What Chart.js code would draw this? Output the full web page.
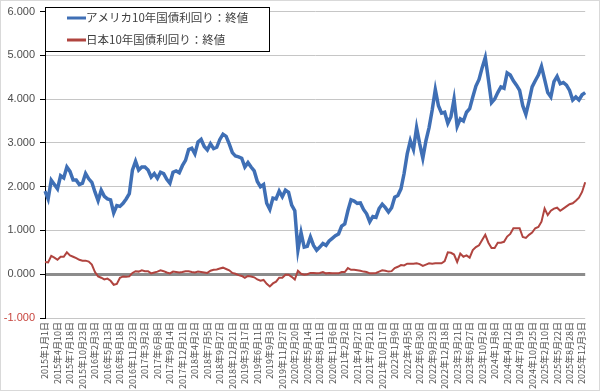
<!DOCTYPE html>
<html>
<head>
<meta charset="utf-8">
<script src="https://cdn.jsdelivr.net/npm/chart.js@4"></script>
<style>
html,body{margin:0;padding:0;background:#fff;}
canvas{display:block;}
</style>
</head>
<body>
<canvas id="c" width="600" height="391"></canvas>
<script>
// Tick labels on the x axis (one every 4 data points)
const tickLabels = [
 '2015年1月1日','2015年4月10日','2015年7月18日','2015年10月23日',
 '2016年2月3日','2016年5月13日','2016年8月18日','2016年11月23日',
 '2017年3月2日','2017年6月8日','2017年9月14日','2017年12月21日',
 '2018年4月2日','2018年7月5日','2018年9月27日','2018年12月21日',
 '2019年3月17日','2019年6月11日','2019年9月3日','2019年11月27日',
 '2020年2月20日','2020年5月14日','2020年8月11日','2020年11月6日',
 '2021年2月2日','2021年4月27日','2021年7月21日','2021年10月17日',
 '2022年1月9日','2022年4月5日','2022年6月30日','2022年9月23日',
 '2022年12月18日','2023年3月21日','2023年6月27日','2023年10月2日',
 '2024年1月8日','2024年4月12日','2024年7月19日','2024年10月25日',
 '2025年2月10日','2025年5月22日','2025年8月28日','2025年12月3日'
];
const pointsPerTick = 4;

const seriesNames = ['アメリカ10年国債利回り：終値', '日本10年国債利回り：終値'];

// US 10y yield (%), 4 readings per tick interval
const usYield = [
 1.90,1.72,2.15,2.05, 1.95,2.25,2.20,2.45, 2.35,2.15,2.15,2.05, 2.08,2.30,2.18,2.10,
 1.88,1.68,1.92,1.78, 1.72,1.70,1.40,1.57, 1.55,1.62,1.72,1.84, 2.38,2.58,2.38,2.45,
 2.45,2.38,2.22,2.30, 2.19,2.33,2.30,2.17, 2.08,2.33,2.36,2.32, 2.48,2.60,2.85,2.88,
 2.75,3.02,3.08,2.92, 2.84,2.98,2.87,2.90, 3.08,3.20,3.15,2.98, 2.78,2.70,2.68,2.65,
 2.45,2.55,2.45,2.36, 2.12,2.00,2.05,1.62, 1.48,1.74,1.72,1.90, 1.77,1.92,1.87,1.58,
 1.45,0.55,0.95,0.62, 0.64,0.85,0.66,0.55, 0.62,0.70,0.66,0.76, 0.82,0.88,0.92,1.10,
 1.15,1.45,1.70,1.67, 1.62,1.63,1.48,1.38, 1.20,1.32,1.30,1.50, 1.60,1.52,1.42,1.52,
 1.76,1.80,1.95,2.30, 2.75,3.05,2.85,3.35, 2.98,2.65,3.05,3.35, 3.75,4.22,3.85,3.68,
 3.70,3.45,3.60,4.00, 3.38,3.55,3.50,3.70, 3.78,4.05,4.30,4.45, 4.72,4.95,4.45,3.92,
 4.00,4.15,4.28,4.25, 4.60,4.55,4.42,4.32, 4.20,3.85,3.65,3.95, 4.28,4.42,4.55,4.75,
 4.45,4.15,4.05,4.40, 4.52,4.35,4.38,4.32, 4.20,3.98,4.05,3.98, 4.10,4.15
];

// Japan 10y yield (%)
const jpYield = [
 0.28,0.27,0.42,0.38, 0.33,0.40,0.40,0.50, 0.43,0.40,0.37,0.33, 0.31,0.31,0.29,0.22,
 0.05,-0.05,-0.08,-0.12, -0.10,-0.15,-0.24,-0.22, -0.08,-0.05,-0.06,-0.05, 0.03,0.07,0.06,0.09,
 0.07,0.07,0.02,0.04, 0.06,0.09,0.07,0.04, 0.02,0.06,0.05,0.04, 0.05,0.07,0.07,0.05,
 0.04,0.06,0.05,0.04, 0.03,0.08,0.10,0.11, 0.13,0.15,0.12,0.09, 0.03,0.01,-0.02,-0.04,
 -0.08,-0.04,-0.05,-0.07, -0.12,-0.15,-0.13,-0.22, -0.28,-0.21,-0.17,-0.08, -0.08,-0.01,-0.01,-0.06,
 -0.12,0.08,0.01,-0.01, 0.00,0.03,0.03,0.02, 0.03,0.05,0.02,0.03, 0.02,0.02,0.02,0.05,
 0.05,0.14,0.10,0.10, 0.09,0.08,0.06,0.05, 0.02,0.02,0.03,0.06, 0.09,0.08,0.06,0.07,
 0.14,0.17,0.21,0.20, 0.24,0.24,0.24,0.25, 0.23,0.19,0.22,0.25, 0.24,0.25,0.25,0.25,
 0.30,0.50,0.49,0.45, 0.28,0.47,0.40,0.43, 0.38,0.55,0.62,0.66, 0.78,0.90,0.72,0.60,
 0.60,0.72,0.72,0.74, 0.86,0.92,1.05,1.05, 1.05,0.85,0.83,0.90, 0.95,1.05,1.08,1.20,
 1.50,1.35,1.45,1.50, 1.52,1.45,1.50,1.55, 1.60,1.62,1.68,1.75, 1.88,2.10
];

const categories = usYield.map((_, i) =>
  (i % pointsPerTick === 0 && tickLabels[i / pointsPerTick]) ? tickLabels[i / pointsPerTick] : '');

const colors = ['#3f6fb5', '#b0443f'];

const boxLegend = {
  id: 'boxLegend',
  afterDraw(chart) {
    const ctx = chart.ctx;
    const left = chart.chartArea.left;
    ctx.save();
    ctx.fillStyle = '#fff';
    ctx.fillRect(left + 0.5, 7.5, 224, 44);
    ctx.strokeStyle = '#000';
    ctx.lineWidth = 1;
    ctx.strokeRect(left + 0.5, 7.5, 224, 44);
    chart.data.datasets.forEach((ds, i) => {
      const y = 18 + i * 22;
      ctx.strokeStyle = ds.borderColor;
      ctx.lineWidth = 3;
      ctx.beginPath();
      ctx.moveTo(left + 22, y);
      ctx.lineTo(left + 41, y);
      ctx.stroke();
      ctx.fillStyle = '#404040';
      ctx.font = '11.5px "Noto Sans CJK JP"';
      ctx.textBaseline = 'middle';
      ctx.textAlign = 'left';
      ctx.fillText(ds.label, left + 41, y);
    });
    ctx.strokeStyle = '#d9d9d9';
    ctx.lineWidth = 1;
    ctx.strokeRect(0.5, 0.5, chart.width - 1, chart.height - 1);
    ctx.restore();
  }
};

new Chart(document.getElementById('c'), {
  type: 'line',
  data: {
    labels: categories,
    datasets: [
      { label: seriesNames[0], data: usYield, borderColor: colors[0], borderWidth: 3.5, pointRadius: 0, tension: 0, fill: false },
      { label: seriesNames[1], data: jpYield, borderColor: colors[1], borderWidth: 2, pointRadius: 0, tension: 0, fill: false }
    ]
  },
  options: {
    responsive: false,
    animation: false,
    devicePixelRatio: 1,
    layout: { padding: { top: 11, right: 10, left: 0, bottom: 0 } },
    plugins: { legend: { display: false }, tooltip: { enabled: false } },
    scales: {
      x: {
        type: 'category',
        offset: false,
        grid: { display: false, drawTicks: false },
        border: { display: false },
        ticks: {
          autoSkip: false, minRotation: 90, maxRotation: 90, padding: 4,
          color: '#4d4d4d', font: { size: 9, family: '"Noto Sans CJK JP"' }
        },
        afterFit(s) { s.height = 73; }
      },
      y: {
        min: -1, max: 6,
        ticks: {
          stepSize: 1, padding: 5,
          callback: v => v.toFixed(3),
          color: c => c.tick.value < 0 ? '#c8463f' : '#4d4d4d',
          font: { size: 11, family: '"Liberation Sans"' }
        },
        grid: {
          color: c => c.tick && c.tick.value === 0 ? '#8c8c8c' : '#c6c6c6',
          lineWidth: c => c.tick && c.tick.value === 0 ? 3 : 1,
          tickColor: '#000', tickLength: 5, tickWidth: 1
        },
        border: { color: '#000', width: 1 },
        afterFit(s) { s.width = 45; }
      }
    }
  },
  plugins: [boxLegend]
});
</script>
</body>
</html>
